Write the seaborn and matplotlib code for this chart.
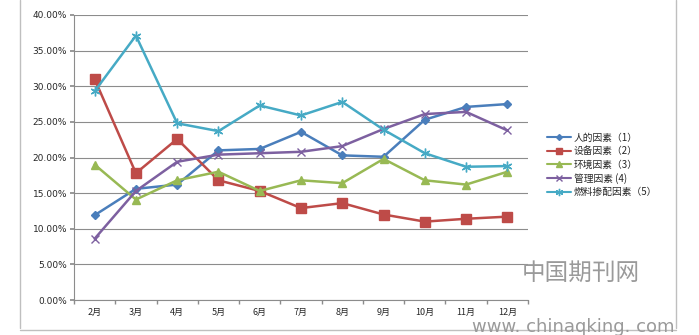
import matplotlib
matplotlib.use("Agg")
import matplotlib.pyplot as plt
import seaborn as sns
import pandas as pd
from matplotlib.lines import Line2D

months = ["2月", "3月", "4月", "5月", "6月", "7月", "8月", "9月", "10月", "11月", "12月"]
human = [11.9, 15.6, 16.2, 21.0, 21.2, 23.6, 20.3, 20.1, 25.3, 27.1, 27.5]
equipment = [31.0, 17.8, 22.6, 16.8, 15.3, 12.9, 13.6, 12.0, 11.0, 11.4, 11.7]
environment = [19.0, 14.1, 16.8, 18.0, 15.3, 16.8, 16.4, 19.8, 16.8, 16.2, 18.0]
management = [8.6, 15.3, 19.4, 20.4, 20.6, 20.8, 21.6, 24.0, 26.1, 26.4, 23.8]
fuel = [29.3, 37.1, 24.8, 23.7, 27.3, 25.9, 27.8, 23.9, 20.6, 18.7, 18.8]
series_names = ["人的因素（1）", "设备因素（2）", "环境因素（3）", "管理因素 (4)", "燃料掺配因素（5）"]
yticks = [0, 5, 10, 15, 20, 25, 30, 35, 40]

sns.set_theme(style="white")
plt.rcParams['font.family'] = ['Noto Sans CJK SC', 'DejaVu Sans']

rows = []
for name, vals in zip(series_names, [human, equipment, environment, management, fuel]):
    for i, (m, v) in enumerate(zip(months, vals)):
        rows.append({"idx": i, "month": m, "value": v, "series": name})
df = pd.DataFrame(rows)

colors = ["#4A7EBB", "#BE4B48", "#98B954", "#7D60A0", "#46AAC5"]
markers = ["D", "s", "^", "x", (6, 2, 0)]
msizes = [4, 6.5, 6, 6, 7]

fig = plt.figure(figsize=(6.99, 3.35), dpi=100)
ax = fig.add_axes([74/699, 1-300/335, (528-74)/699, (300-15)/335])

for name, c, mk, ms in zip(series_names, colors, markers, msizes):
    sub = df[df.series == name]
    sns.lineplot(data=sub, x="idx", y="value", ax=ax, color=c, marker=mk,
                 markersize=ms, linewidth=1.8, markeredgecolor=c,
                 markeredgewidth=1.0, label=name, legend=False)

ax.set_xlim(-0.5, len(months) - 0.5)
ax.set_ylim(0, 40)
ax.set_yticks(yticks)
ax.set_yticklabels([f"{v:.2f}%" for v in yticks], fontsize=6.5, family=['DejaVu Sans'])
ax.set_xticks(range(len(months)))
ax.set_xticklabels(months, fontsize=6.5)
ax.set_xlabel("")
ax.set_ylabel("")
ax.yaxis.grid(True, color="#8C8C8C", linewidth=0.8)
ax.set_axisbelow(True)
for s in ["top", "right"]:
    ax.spines[s].set_visible(False)
for s in ["left", "bottom"]:
    ax.spines[s].set_color("#8C8C8C")
    ax.spines[s].set_linewidth(0.8)
ax.tick_params(axis="y", length=3, color="#8C8C8C", pad=2, left=True)
ax.tick_params(axis="x", length=0, pad=6)
ax.set_xticks([i - 0.5 for i in range(len(months) + 1)], minor=True)
ax.tick_params(axis="x", which="minor", length=3, color="#8C8C8C", bottom=True)

handles = [Line2D([0], [0], color=c, marker=mk, markersize=ms * 0.75, linewidth=1.5,
                  markeredgecolor=c) for c, mk, ms in zip(colors, markers, msizes)]
leg = fig.legend(handles, series_names, loc="upper left", bbox_to_anchor=(538/699, 1-124/335),
                 frameon=False, fontsize=7, handlelength=2.5, labelspacing=0.35,
                 handletextpad=0.3)

# chart frame lines
fig.add_artist(Line2D([20/699, 20/699], [0.02, 1.0], color="#BFBFBF", linewidth=1))
fig.add_artist(Line2D([20/699, 676/699], [1-330/335, 1-330/335], color="#BFBFBF", linewidth=1))
fig.add_artist(Line2D([676/699, 676/699], [0.02, 1.0], color="#BFBFBF", linewidth=1))

# watermark
fig.text(522/699, 1-273/335, "中国期刊网", fontsize=17, color="#9A9A9A", ha="left", va="center",
         family=['Noto Sans CJK SC'])
fig.text(472/699, 1-327/335, "www. chinaqking. com", fontsize=13, color="#9A9A9A", ha="left",
         va="center", family=['DejaVu Sans'])

fig.savefig("out.png", dpi=100)
